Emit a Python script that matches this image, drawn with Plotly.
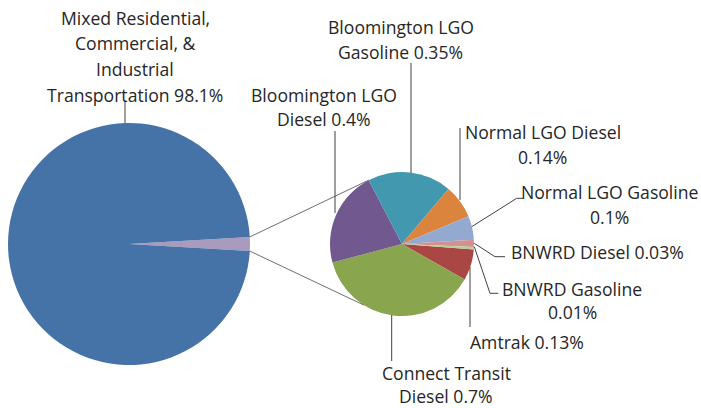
import math
import plotly.graph_objects as go

# ---------------- data ----------------
main_label = "Mixed Residential, Commercial, & Industrial Transportation"
main_value = 98.1
other_label = "Other"

small_labels = ["Amtrak", "Connect Transit Diesel", "Bloomington LGO Diesel",
                "Bloomington LGO Gasoline", "Normal LGO Diesel", "Normal LGO Gasoline",
                "BNWRD Diesel", "BNWRD Gasoline"]
small_values = [0.13, 0.7, 0.4, 0.35, 0.14, 0.1, 0.03, 0.01]

# ---------------- styling / layout ----------------
W, H = 701, 408
big_colors = ["#A99BBD", "#4572A7"]
small_colors = ["#AA4643", "#89A54E", "#71588F", "#4198AF", "#DB843D", "#93A9CF", "#D19392", "#B9CD96"]

BIG_C, BIG_R = (129, 244), 121
SM_C, SM_R = (402, 244), 72

def px(x):
    return x / W

def py(y):
    return 1 - y / H

other_value = sum(small_values)
other_frac = other_value / (other_value + main_value)

fig = go.Figure()
fig.add_trace(go.Pie(
    labels=[other_label, main_label], values=[other_value, main_value],
    marker=dict(colors=big_colors, line=dict(width=0)),
    sort=False, direction="clockwise", rotation=90 - other_frac * 180,
    textinfo="none", hoverinfo="label+percent", showlegend=False,
    domain=dict(x=[px(BIG_C[0] - BIG_R), px(BIG_C[0] + BIG_R)],
                y=[py(BIG_C[1] + BIG_R), py(BIG_C[1] - BIG_R)]),
))
fig.add_trace(go.Pie(
    labels=small_labels, values=small_values,
    marker=dict(colors=small_colors, line=dict(width=0)),
    sort=False, direction="clockwise", rotation=94.4,
    textinfo="none", hoverinfo="label+value", showlegend=False,
    domain=dict(x=[px(SM_C[0] - SM_R), px(SM_C[0] + SM_R)],
                y=[py(SM_C[1] + SM_R), py(SM_C[1] - SM_R)]),
))

shapes = []

def line(points, color="#404040", width=1):
    path = "M " + " L ".join(f"{px(x)},{py(y)}" for x, y in points)
    shapes.append(dict(type="path", path=path, xref="paper", yref="paper",
                       line=dict(color=color, width=width)))

# series connector lines from the "other" wedge edges to the secondary pie
half = math.radians(other_frac * 180)
for sgn, ang in ((1, 117.5), (-1, -122)):
    x0 = BIG_C[0] + BIG_R * math.cos(half)
    y0 = BIG_C[1] - sgn * BIG_R * math.sin(half)
    a = math.radians(ang)
    x1 = SM_C[0] + SM_R * math.cos(a)
    y1 = SM_C[1] - SM_R * math.sin(a)
    line([(x0, y0), (x1, y1)], color="#6e6e6e", width=1)

# leader lines
line([(125, 101), (125, 123)])
line([(411, 63), (411, 173)])
line([(335, 131), (335, 213)])
line([(460, 128), (460, 200)])
line([(471.7, 226.7), (516.7, 198.3), (523.3, 198.3)])
line([(474.3, 243.3), (495, 256.7), (505, 256.7)])
line([(474.3, 246.7), (490, 293.3), (498.3, 293.3)])
line([(470, 267), (470, 327)])
line([(391.7, 315), (391.7, 361)])

fig.update_layout(shapes=shapes)

FONT = dict(family="Open Sans", size=17.6, color="#262626")

def label(lines, cx, y0, spacing=25.5):
    for i, t in enumerate(lines):
        fig.add_annotation(text=t, x=px(cx), y=py(y0 + i * spacing), xref="paper", yref="paper",
                           xanchor="center", yanchor="middle", showarrow=False, font=FONT,
                           borderpad=0)

def pct(v):
    return f"{v}%"

label(["Mixed Residential,", "Commercial, &", "Industrial", f"Transportation {pct(main_value)}"], 135, 18)
label(["Bloomington LGO", f"Gasoline {pct(small_values[3])}"], 401, 27)
label(["Bloomington LGO", f"Diesel {pct(small_values[2])}"], 324, 95, 23.5)
label(["Normal LGO Diesel", pct(small_values[4])], 542.5, 132, 25)
label(["Normal LGO Gasoline", pct(small_values[5])], 609, 192, 25)
label([f"BNWRD Diesel {pct(small_values[6])}"], 597, 252)
label(["BNWRD Gasoline", pct(small_values[7])], 572, 288.5, 23.5)
label([f"Amtrak {pct(small_values[0])}"], 527, 342)
label(["Connect Transit", f"Diesel {pct(small_values[1])}"], 446, 373, 22.5)

fig.update_layout(width=W, height=H, margin=dict(l=0, r=0, t=0, b=0),
                  paper_bgcolor="white", plot_bgcolor="white")

fig.write_html("out.html", config={"displayModeBar": False},
               post_script="document.body.style.margin='0px';")
